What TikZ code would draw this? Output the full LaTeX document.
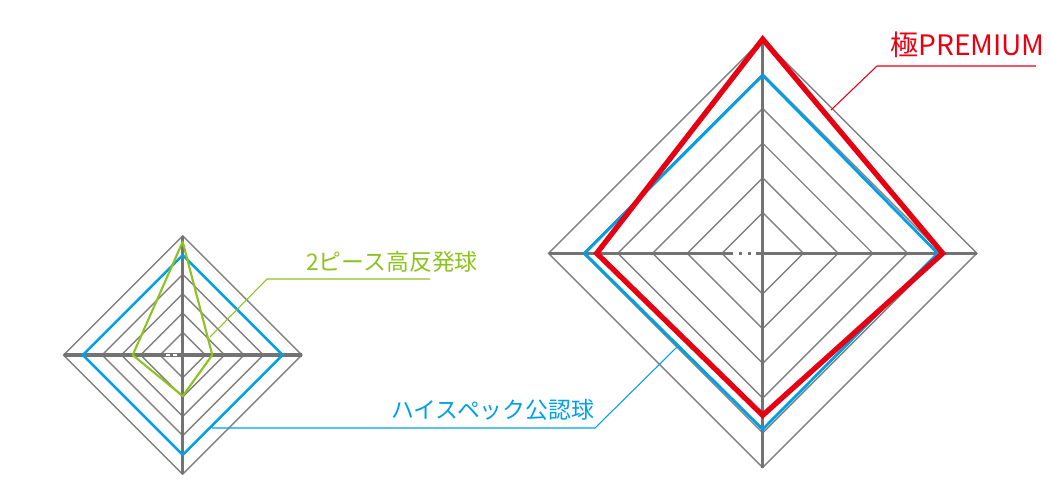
\documentclass[tikz,border=0pt]{standalone}
\usepackage{fontspec}
\setmainfont{Noto Sans CJK JP}
\definecolor{premred}{HTML}{E60012}
\definecolor{specblue}{HTML}{00A0E9}
\definecolor{piecegreen}{HTML}{8DC21F}
\definecolor{ringgrey}{HTML}{808080}
\tikzset{
    ring/.style={draw=ringgrey, line width=0.4pt},
    axis/.style={draw=ringgrey!90!black, line width=0.9pt},
    leader/.style={line width=0.3pt},
    label/.style={inner sep=1pt, font=\fontsize{6.5}{7}\selectfont},
}
\begin{document}
\begin{tikzpicture}[x=0.01cm, y=-0.01cm]
        \useasboundingbox (0, 0) rectangle (1051, 502);

        % small chart
        \foreach \r in {22.7, 42, 61.3, 80.6, 99.9, 119.2} {
            \draw[ring] (182.7-\r, 355) -- (182.7, 355-\r) -- (182.7+\r, 355) -- (182.7, 355+\r) -- cycle;
        }
        \draw[axis] (63.5, 355) -- (301.9, 355);
        \draw[axis] (182.7, 235.8) -- (182.7, 474.2);
        \draw[white, line width=0.6pt, dash pattern=on 1.2pt off 0.8pt] (166, 355) -- (180, 355);
        \draw[specblue, line width=0.7pt] (82.8, 355) -- (182.7, 255.1) -- (282.6, 355) -- (182.7, 454.9) -- cycle;
        \draw[piecegreen, line width=0.6pt, line join=round] (132.7, 355) -- (182.7, 241.7) -- (212.3, 355) -- (182.7, 396) -- cycle;

        % large chart
        \foreach \r in {40.7, 75.4, 110.1, 144.8, 179.5, 214.2} {
            \draw[ring] (762.7-\r, 253.3) -- (762.7, 253.3-\r) -- (762.7+\r, 253.3) -- (762.7, 253.3+\r) -- cycle;
        }
        \draw[axis] (548.5, 253.3) -- (976.9, 253.3);
        \draw[axis] (762.7, 39.1) -- (762.7, 467.5);
        \draw[white, line width=0.8pt, dash pattern=on 1.6pt off 1.0pt] (733, 253.3) -- (756, 253.3);
        \draw[specblue, line width=0.8pt] (584.5, 253.3) -- (762.7, 75.3) -- (937.7, 253.3) -- (762.7, 429.3) -- cycle;
        \draw[premred, line width=1.5pt] (596.7, 253.3) -- (762.7, 39.1) -- (942.7, 253.3) -- (762.7, 415.3) -- cycle;

        % labels
        \node[label, text=premred, font=\fontsize{8}{9}\selectfont, anchor=base west] (premium-label) at (886, 55) {極PREMIUM};
        \coordinate (premium-knee) at (877, 66);
        \coordinate (premium-end) at (831, 110);
        \draw[leader, premred] (1036, 66) -- (premium-knee) -- (premium-end);

        \node[label, text=piecegreen, anchor=base west] (piece-label) at (302, 270) {2ピース高反発球};
        \coordinate (piece-knee) at (267, 279);
        \coordinate (piece-end) at (210, 337);
        \draw[leader, piecegreen] (430, 279) -- (piece-knee) -- (piece-end);

        \node[label, text=specblue, anchor=base west] (spec-label) at (387, 418) {ハイスペック公認球};
        \coordinate (spec-start) at (212, 428);
        \coordinate (spec-knee) at (595, 428);
        \coordinate (spec-end) at (677, 347);
        \draw[leader, specblue] (spec-start) -- (spec-knee) -- (spec-end);
\end{tikzpicture}
\end{document}
